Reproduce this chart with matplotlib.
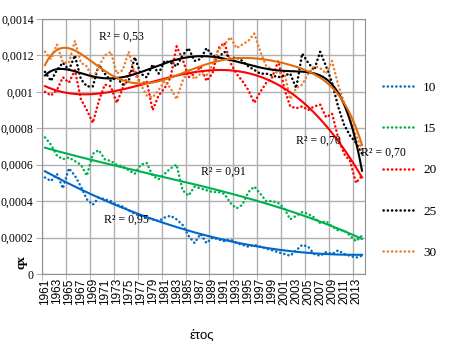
import matplotlib
matplotlib.use("Agg")
import matplotlib.pyplot as plt
import numpy as np
from matplotlib.ticker import FuncFormatter

years = np.arange(1961, 2015)

q10 = [0.00053, 0.00051, 0.00055, 0.00047, 0.00058, 0.00054, 0.00048, 0.00041, 0.00038, 0.00042,
       0.00041, 0.00040, 0.00038, 0.00037, 0.00035, 0.00033, 0.00032, 0.00031, 0.00030, 0.00029,
       0.00031, 0.00032, 0.00030, 0.00027, 0.00021, 0.00017, 0.00022, 0.00017, 0.00020, 0.00019,
       0.00018, 0.00019, 0.00017, 0.00016, 0.00015, 0.00016, 0.00015, 0.00014, 0.00013, 0.00012,
       0.00011, 0.00010, 0.00013, 0.00016, 0.00015, 0.00011, 0.00010, 0.00012, 0.00011, 0.00013,
       0.00011, 0.00010, 0.00009, 0.00010]
q15 = [0.00075, 0.00071, 0.00065, 0.00063, 0.00064, 0.00062, 0.00060, 0.00054, 0.00066, 0.00068,
       0.00063, 0.00062, 0.00060, 0.00059, 0.00057, 0.00055, 0.00060, 0.00061, 0.00054, 0.00052,
       0.00055, 0.00058, 0.00060, 0.00046, 0.00043, 0.00048, 0.00047, 0.00046, 0.00045, 0.00045,
       0.00044, 0.00039, 0.00036, 0.00038, 0.00045, 0.00048, 0.00044, 0.00040, 0.00040, 0.00039,
       0.00036, 0.00030, 0.00032, 0.00034, 0.00033, 0.00031, 0.00028, 0.00029, 0.00026, 0.00024,
       0.00024, 0.00021, 0.00018, 0.00021]
q20 = [0.00100, 0.00098, 0.00101, 0.00108, 0.00105, 0.00112, 0.00096, 0.00090, 0.00083, 0.00095,
       0.00104, 0.00103, 0.00094, 0.00102, 0.00110, 0.00112, 0.00104, 0.00106, 0.00090, 0.00098,
       0.00102, 0.00108, 0.00125, 0.00118, 0.00108, 0.00110, 0.00114, 0.00106, 0.00110, 0.00124,
       0.00127, 0.00116, 0.00110, 0.00106, 0.00101, 0.00094, 0.00100, 0.00105, 0.00108, 0.00117,
       0.00102, 0.00092, 0.00091, 0.00092, 0.00090, 0.00092, 0.00093, 0.00086, 0.00088, 0.00075,
       0.00066, 0.00062, 0.00050, 0.00054]
q25 = [0.00111, 0.00106, 0.00112, 0.00116, 0.00112, 0.00120, 0.00107, 0.00103, 0.00103, 0.00115,
       0.00110, 0.00106, 0.00108, 0.00104, 0.00106, 0.00119, 0.00110, 0.00108, 0.00115, 0.00110,
       0.00117, 0.00116, 0.00114, 0.00120, 0.00124, 0.00117, 0.00118, 0.00124, 0.00120, 0.00119,
       0.00122, 0.00118, 0.00119, 0.00117, 0.00114, 0.00112, 0.00110, 0.00110, 0.00109, 0.00108,
       0.00109, 0.00110, 0.00102, 0.00121, 0.00116, 0.00112, 0.00122, 0.00114, 0.00105, 0.00092,
       0.00082, 0.00076, 0.00072, 0.00066]
q30 = [0.00122, 0.00118, 0.00126, 0.00116, 0.00116, 0.00128, 0.00116, 0.00114, 0.00107, 0.00114,
       0.00120, 0.00122, 0.00110, 0.00112, 0.00122, 0.00110, 0.00104, 0.00098, 0.00097, 0.00101,
       0.00106, 0.00102, 0.00096, 0.00106, 0.00112, 0.00107, 0.00110, 0.00109, 0.00115, 0.00123,
       0.00126, 0.00130, 0.00124, 0.00126, 0.00128, 0.00132, 0.00122, 0.00114, 0.00112, 0.00110,
       0.00111, 0.00096, 0.00102, 0.00104, 0.00110, 0.00114, 0.00113, 0.00110, 0.00117, 0.00104,
       0.00094, 0.00086, 0.00076, 0.00068]

ages = ["10", "15", "20", "25", "30"]
series = [q10, q15, q20, q25, q30]
dot_colors = ["#0070C0", "#00B050", "#FF0000", "#000000", "#ED7D31"]
trend_colors = ["#0066CC", "#00B050", "#FF0000", "#000000", "#E46C0A"]
trend_order = [2, 3, 4, 6, 6]

r2_texts = ["R² = 0,53", "R² = 0,91", "R² = 0,95", "R² = 0,70", "R² = 0,70"]
r2_pos = [(1973.7, 0.00130), (1990.8, 0.00056), (1974.7, 0.000296), (2006.8, 0.00073), (2017.6, 0.000664)]

fig = plt.figure(figsize=(4.51, 3.48), dpi=100)
ax = fig.add_axes([0.0931, 0.2126, 0.7162, 0.7328])

grid_c = "#B0B0B0"
t = (years - 1987.5) / 10.0
tt = np.linspace(t[0], t[-1], 300)
handles = []
for vals, lab, dc in zip(series, ages, dot_colors):
    h, = ax.plot(years, vals, color=dc, lw=1.8, dashes=(0.1, 1.6),
                 dash_capstyle="round", label=lab, zorder=3)
    handles.append(h)
for vals, tc, order in zip(series, trend_colors, trend_order):
    c = np.polyfit(t, vals, order)
    ax.plot(tt * 10 + 1987.5, np.polyval(c, tt), color=tc, lw=1.5, zorder=4)

for txt, (px, py) in zip(r2_texts, r2_pos):
    ax.text(px, py, txt, ha="center", va="center", fontsize=8.5,
            family="Liberation Serif", clip_on=False, zorder=5)

ax.set_xlim(1960.5, 2014.5)
ax.set_ylim(0, 0.0014)
ax.set_yticks(np.arange(0, 0.00141, 0.0002))
ax.yaxis.set_major_formatter(FuncFormatter(
    lambda v, p: ("%.4f" % v).rstrip("0").rstrip(".").replace(".", ",")))
ax.set_xticks(np.arange(1961, 2014, 2))
ax.set_xticklabels([str(y) for y in range(1961, 2014, 2)], rotation=90,
                   family="Liberation Sans", fontsize=8.5)
ax.set_xticks(np.arange(1960.5, 2014, 4), minor=True)
for lbl in ax.get_yticklabels():
    lbl.set_family("Liberation Serif")
    lbl.set_fontsize(8.5)
ax.tick_params(axis="x", which="major", length=0, pad=3)
ax.tick_params(axis="x", which="minor", length=4, color=grid_c)
ax.tick_params(axis="y", length=4, color=grid_c, pad=2)
ax.grid(True, which="minor", axis="x", color=grid_c, lw=1)
ax.grid(True, which="major", axis="y", color=grid_c, lw=1)
ax.set_axisbelow(True)
for s in ax.spines.values():
    s.set_color("#909090")

fig.text(0.047, 0.247, "qx", rotation=90, ha="center", va="center",
         family="Liberation Serif", fontsize=9.5, fontweight="bold")
fig.text(0.448, 0.035, "έτος", ha="center", va="center",
         family="Liberation Sans", fontsize=9.5)

fig.legend(handles=handles, loc="upper left", bbox_to_anchor=(0.824, 0.80),
           frameon=False, handlelength=2.2, labelspacing=2.2, handletextpad=0.8,
           prop={"family": "Liberation Serif", "size": 9.5})

fig.savefig("out.png", dpi=100)
